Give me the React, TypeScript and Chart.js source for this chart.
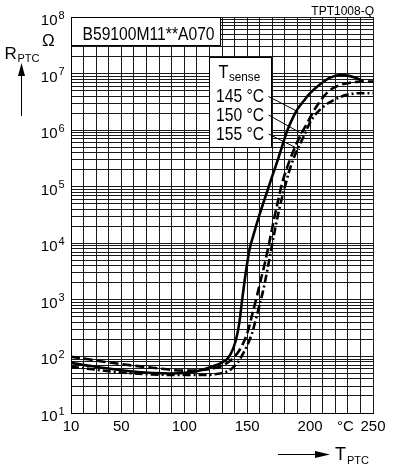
import React, { useEffect, useRef } from "react";
import { Chart, registerables } from "chart.js";

Chart.register(...registerables);

const FONT = '"Liberation Sans", Arial, Helvetica, sans-serif';

// ---- data ----
const xLabelTicks = [10, 50, 100, 150, 200, 250];
const yDecadeExponents = [1, 2, 3, 4, 5, 6, 7, 8];
const seriesLabels = ["145 °C", "150 °C", "155 °C"];
const typeLabel = "B59100M11**A070";
const docLabel = "TPT1008-Q";

const temp145 = [10, 25, 50, 75, 90, 100, 110, 120, 130, 135, 139, 142, 144, 146, 148, 150, 152, 155, 160, 165, 170, 175, 182, 186, 190, 195, 200, 208, 216, 224, 230, 237, 242];
const res145 = [77, 68, 57, 51, 50, 51, 55, 64, 78, 95, 140, 240, 430, 1000, 2200, 4400, 8000, 14000, 33000, 72000, 155000, 330000, 1.0e6, 1.6e6, 2.35e6, 3.3e6, 4.5e6, 6.5e6, 8.5e6, 9.4e6, 9.2e6, 8.3e6, 7.4e6];

const temp150 = [10, 25, 50, 75, 100, 112, 125, 131, 139, 144, 148, 151, 154, 157, 160, 164, 167, 170, 174, 178, 184, 190.7, 197.4, 205, 214.5, 224, 232, 240, 250];
const res150 = [99, 88, 73, 63, 56, 57, 63, 70, 94, 130, 195, 300, 550, 1000, 1900, 4400, 9000, 19000, 50000, 120000, 300000, 680000, 1.3e6, 2.6e6, 4.8e6, 6.3e6, 6.9e6, 7.2e6, 7.2e6];

const temp155 = [10, 25, 50, 75, 100, 115, 123, 136, 143, 147, 151, 154, 156, 158, 160, 162, 164, 167, 172, 176, 180, 183, 187, 195, 201, 210.6, 221, 229, 240, 250];
const res155 = [66, 60, 52, 48, 47, 47, 48, 57, 81, 115, 175, 260, 380, 560, 850, 1250, 2000, 4400, 17000, 45000, 100000, 175000, 320000, 780000, 1.5e6, 2.6e6, 3.6e6, 4.2e6, 4.5e6, 4.5e6];

// annotation anchors in data units
const typeBoxT = [10, 128.4];
const typeBoxR = [1e8, 3.2e7];
const senseBoxT = [119.7, 169];
const senseBoxR = [1.96e7, 5.0e5];
const leaderEndT = [190.7, 193.4, 192];
const leaderEndR = [2.1e6, 8.7e5, 4.5e5];
const degreeLabelT = 228;

const yGridValues: number[] = [];
for (let e = 1; e < 8; e++) {
  for (let m = 1; m <= 9; m++) yGridValues.push(m * Math.pow(10, e));
}
yGridValues.push(1e8);

const toXY = (t: number[], r: number[]) => t.map((v, i) => ({ x: v, y: r[i] }));

function condText(ctx: CanvasRenderingContext2D, s: string, x: number, y: number, size: number, sx = 0.87, align: CanvasTextAlign = "left") {
  ctx.save();
  ctx.font = `${size}px ${FONT}`;
  ctx.textAlign = align;
  ctx.textBaseline = "alphabetic";
  ctx.translate(x, y);
  ctx.scale(sx, 1);
  ctx.fillText(s, 0, 0);
  ctx.restore();
}

const decorPlugin = {
  id: "decor",
  beforeDatasetsDraw(chart: any) {
    const { ctx } = chart;
    const xs = chart.scales.x;
    const ys = chart.scales.y;
    ctx.save();
    ctx.fillStyle = "#fff";
    ctx.strokeStyle = "#000";
    ctx.lineWidth = 1;
    // type box
    const x1 = Math.round(xs.getPixelForValue(typeBoxT[0])) + 0.5;
    const x2 = Math.round(xs.getPixelForValue(typeBoxT[1])) + 0.5;
    const y1 = Math.round(ys.getPixelForValue(typeBoxR[0])) + 0.5;
    const y2 = Math.round(ys.getPixelForValue(typeBoxR[1])) + 0.5;
    ctx.fillRect(x1, y1, x2 - x1, y2 - y1);
    ctx.strokeRect(x1, y1, x2 - x1, y2 - y1);
    ctx.fillStyle = "#000";
    condText(ctx, typeLabel, x1 + 11, y1 + 22.5, 18);

    // sense box
    const sx1 = Math.round(xs.getPixelForValue(senseBoxT[0])) + 0.5;
    const sx2 = Math.round(xs.getPixelForValue(senseBoxT[1])) + 0.5;
    const sy1 = Math.round(ys.getPixelForValue(senseBoxR[0])) + 0.5;
    const sy2 = Math.round(ys.getPixelForValue(senseBoxR[1])) + 0.5;
    ctx.fillStyle = "#fff";
    ctx.fillRect(sx1, sy1, sx2 - sx1, sy2 - sy1);
    ctx.strokeRect(sx1, sy1, sx2 - sx1, sy2 - sy1);
    ctx.fillStyle = "#000";
    condText(ctx, "T", sx1 + 9, sy1 + 20, 18, 0.9);
    condText(ctx, "sense", sx1 + 19.5, sy1 + 23.5, 13, 0.9);
    const baselines = [sy1 + 44.5, sy1 + 63, sy1 + 82];
    seriesLabels.forEach((s, i) => {
      condText(ctx, s, sx1 + 6.5, baselines[i], 18);
      // leader line
      ctx.beginPath();
      ctx.lineWidth = 1;
      ctx.moveTo(sx1 + 59, baselines[i] - 5.5);
      ctx.lineTo(xs.getPixelForValue(leaderEndT[i]), ys.getPixelForValue(leaderEndR[i]));
      ctx.stroke();
    });
    ctx.restore();
  },
  afterDraw(chart: any) {
    const { ctx } = chart;
    const xs = chart.scales.x;
    const ys = chart.scales.y;
    ctx.save();
    ctx.fillStyle = "#000";
    ctx.strokeStyle = "#000";
    // y decade labels with superscript
    yDecadeExponents.forEach((e) => {
      const py = ys.getPixelForValue(Math.pow(10, e));
      ctx.font = `15px ${FONT}`;
      ctx.textAlign = "right";
      ctx.textBaseline = "alphabetic";
      ctx.fillText("10", 57.5, py + 8);
      ctx.font = `11px ${FONT}`;
      ctx.textAlign = "left";
      ctx.fillText(String(e), 58.5, py + 1.5);
    });
    // x tick labels
    ctx.font = `15px ${FONT}`;
    ctx.textAlign = "center";
    ctx.textBaseline = "middle";
    xLabelTicks.forEach((v) => {
      ctx.fillText(String(v), xs.getPixelForValue(v), 427);
    });
    ctx.fillText("°C", xs.getPixelForValue(degreeLabelT), 427);
    // Ohm
    ctx.textBaseline = "alphabetic";
    ctx.font = `17px ${FONT}`;
    ctx.textAlign = "left";
    ctx.fillText("Ω", 42, 46);
    // R_PTC
    ctx.font = `17px ${FONT}`;
    ctx.fillText("R", 4.5, 58.5);
    ctx.font = `11px ${FONT}`;
    ctx.fillText("PTC", 17.5, 61.5);
    // y arrow
    ctx.lineWidth = 1;
    ctx.beginPath();
    ctx.moveTo(21.5, 116);
    ctx.lineTo(21.5, 74);
    ctx.stroke();
    ctx.beginPath();
    ctx.moveTo(21.5, 63);
    ctx.lineTo(18, 76);
    ctx.lineTo(25, 76);
    ctx.closePath();
    ctx.fill();
    // x arrow
    ctx.beginPath();
    ctx.moveTo(278, 454.5);
    ctx.lineTo(318, 454.5);
    ctx.stroke();
    ctx.beginPath();
    ctx.moveTo(330, 454.5);
    ctx.lineTo(315, 451);
    ctx.lineTo(315, 458);
    ctx.closePath();
    ctx.fill();
    ctx.textAlign = "left";
    ctx.textBaseline = "alphabetic";
    ctx.font = `18px ${FONT}`;
    ctx.fillText("T", 335, 459.5);
    ctx.font = `11px ${FONT}`;
    ctx.fillText("PTC", 347, 463.5);
    // document id
    ctx.font = `12px ${FONT}`;
    ctx.textAlign = "right";
    ctx.fillText(docLabel, 374, 14.5);
    ctx.restore();
  },
};

export default function App() {
  const ref = useRef<HTMLCanvasElement | null>(null);
  useEffect(() => {
    if (!ref.current) return;
    const gridColor = "#1a1a1a";
    const chart = new Chart(ref.current, {
      type: "line",
      data: {
        datasets: [
          {
            label: seriesLabels[0],
            data: toXY(temp145, res145),
            borderColor: "#000",
            borderWidth: 2.6,
            pointRadius: 0,
            cubicInterpolationMode: "monotone",
            fill: false,
          },
          {
            label: seriesLabels[1],
            data: toXY(temp150, res150),
            borderColor: "#000",
            borderWidth: 2.6,
            borderDash: [9, 4],
            pointRadius: 0,
            cubicInterpolationMode: "monotone",
            fill: false,
          },
          {
            label: seriesLabels[2],
            data: toXY(temp155, res155),
            borderColor: "#000",
            borderWidth: 2.6,
            borderDash: [8, 3, 2, 3],
            pointRadius: 0,
            cubicInterpolationMode: "monotone",
            fill: false,
          },
        ],
      },
      options: {
        animation: false,
        responsive: false,
        devicePixelRatio: 1,
        layout: { padding: { left: 71, right: 24, top: 17, bottom: 57 } },
        plugins: { legend: { display: false }, tooltip: { enabled: false } },
        scales: {
          x: {
            type: "linear",
            min: 10,
            max: 250,
            ticks: { stepSize: 10, autoSkip: false, display: false },
            grid: { color: gridColor, lineWidth: 1, drawTicks: false },
            border: { color: "#000", width: 1 },
          },
          y: {
            type: "logarithmic",
            min: 10,
            max: 1e8,
            afterBuildTicks: (scale: any) => {
              scale.ticks = yGridValues.map((v) => ({ value: v }));
            },
            ticks: { display: false },
            grid: { color: gridColor, lineWidth: 1, drawTicks: false },
            border: { color: "#000", width: 1 },
          },
        },
      },
      plugins: [decorPlugin],
    } as any);
    return () => chart.destroy();
  }, []);
  return (
    <div style={{ position: "absolute", left: 0, top: 0, width: 397, height: 470, background: "#fff" }}>
      <canvas ref={ref} width={397} height={470} style={{ display: "block" }} />
    </div>
  );
}
